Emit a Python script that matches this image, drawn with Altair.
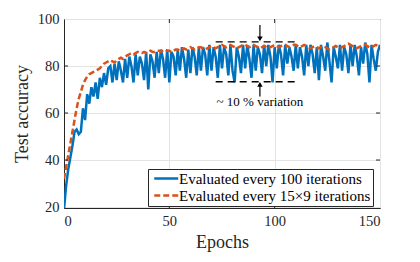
import altair as alt
import pandas as pd

# ---------------- data ----------------
epochs = list(range(0, 151))

blue_acc = [
    19, 29, 36, 41, 46, 52, 53, 51, 52, 62,
    57, 68, 64, 71, 67, 73, 66, 75, 71, 77,
    72, 79, 80, 73, 81, 74, 82, 78, 73, 83,
    75, 84, 80, 73, 85, 76, 84, 81, 74, 86,
    70, 85, 82, 75, 86, 77, 87, 83, 75, 87,
    73, 86, 84, 76, 87, 78, 88, 83, 75, 87,
    77, 88, 84, 76, 88, 78, 88, 85, 76, 89,
    78, 88, 84, 75, 89, 79, 88, 85, 76, 89,
    78, 73, 88, 84, 77, 89, 79, 89, 83, 75,
    89, 78, 88, 85, 77, 89, 80, 89, 84, 73,
    88, 79, 89, 85, 76, 89, 81, 88, 84, 78,
    89, 79, 88, 84, 76, 89, 80, 89, 85, 77,
    88, 74, 89, 84, 78, 90, 82, 73, 88, 84,
    79, 89, 78, 88, 85, 77, 89, 80, 89, 84,
    76, 88, 81, 90, 85, 73, 89, 83, 78, 86,
    89,
]

orange_acc = [
    32, 37, 42, 47, 52, 57, 62, 66, 69, 72,
    74, 75.5, 76.5, 77, 77.5, 78, 78.5, 79, 80, 81,
    81.5, 82, 82.5, 82, 81.5, 82.5, 83, 83.5, 83, 84,
    84.5, 85, 85.5, 85, 85.5, 86, 85.5, 85.5, 86, 85.5,
    86, 86.5, 86, 86, 86.5, 86.5, 86, 86.5, 87, 86.5,
    86.5, 86, 86.5, 87, 87, 86.5, 87, 87.5, 87, 87.5,
    88, 87.5, 87, 87.5, 88, 88, 87.5, 87, 87.5, 88,
    88.5, 88, 87.5, 88, 88.5, 89, 88.5, 88, 88.5, 89,
    88.5, 88, 87.5, 88, 88.5, 89, 89, 88.5, 88, 88.5,
    89, 88.5, 88, 87.5, 88, 88.5, 88, 87.5, 88, 88.5,
    89, 88.5, 88, 88.5, 89, 89, 88.5, 88, 88.5, 89,
    89, 88.5, 88, 88.5, 89, 88.5, 88, 87.5, 88, 88.5,
    88, 87.5, 88, 88.5, 88, 87.5, 87, 87.5, 88, 88.5,
    88, 87.5, 88, 88.5, 89, 89.5, 89, 88.5, 88, 87.5,
    88, 88.5, 89, 89, 88.5, 88, 88, 88.5, 89, 88.5,
    88,
]

series_names = ["Evaluated every 100 iterations", "Evaluated every 15\u00d79 iterations"]
series_colors = ["#0072BD", "#D95319"]

x_ticks = [0, 50, 100, 150]
y_ticks = [20, 40, 60, 80, 100]

# annotation
band_levels = [90.3, 73.3]
band_start, band_end = 72, 111.5
arrow_epoch = 93
arrow_top = [97.5, 91.5]      # from, to (head)
arrow_bottom = [67.0, 72.2]
note_text = "~ 10 % variation"
note_pos = [93, 64.5]

# ---------------- layout ----------------
W, H = 316, 189
FONT = "Liberation Serif"
AX = "#262626"

df = pd.DataFrame({
    "epoch": epochs * 2,
    "acc": blue_acc + orange_acc,
    "series": [series_names[0]] * len(epochs) + [series_names[1]] * len(epochs),
})

xs = alt.Scale(domain=[0, 150], nice=False)
ys = alt.Scale(domain=[19.6, 100], nice=False)

leg = alt.Legend(
    title=None, orient="none", legendX=84, legendY=150,
    strokeColor=AX, fillColor="white", padding=2,
    labelFont=FONT, labelFontSize=15, labelColor="black",
    symbolType="M-0.65,0H4.15", symbolSize=100, symbolStrokeWidth=2.5,
    rowPadding=1, labelOffset=14, labelLimit=400,
)

lines = alt.Chart(df).mark_line(strokeWidth=2.5, clip=True).encode(
    x=alt.X("epoch:Q", scale=xs, axis=alt.Axis(
        values=x_ticks, title="Epochs", ticks=False, labelPadding=6,
        titleY=39, titleBaseline="alphabetic")),
    y=alt.Y("acc:Q", scale=ys, axis=alt.Axis(
        values=y_ticks, title="Test accuracy", ticks=False, labelPadding=5,
        titleX=-37, titleY=H / 2, titleAngle=-90, titleAlign="center",
        titleBaseline="alphabetic")),
    color=alt.Color("series:N", scale=alt.Scale(domain=series_names, range=series_colors), legend=leg),
    strokeDash=alt.StrokeDash("series:N", scale=alt.Scale(domain=series_names, range=[[1, 0], [6, 3]]), legend=leg),
    order="epoch:Q",
)

band_df = pd.DataFrame({"y": band_levels, "x": [band_start] * 2, "x2": [band_end] * 2})
band = alt.Chart(band_df).mark_rule(color="black", strokeWidth=1.3, strokeDash=[7, 5]).encode(
    x=alt.X("x:Q", scale=xs), x2="x2:Q", y=alt.Y("y:Q", scale=ys))

arr_df = pd.DataFrame({"x": [arrow_epoch] * 2, "y": [arrow_top[0], arrow_bottom[0]],
                       "y2": [arrow_top[1], arrow_bottom[1]]})
arrows = alt.Chart(arr_df).mark_rule(color="black", strokeWidth=1.2).encode(
    x=alt.X("x:Q", scale=xs), y=alt.Y("y:Q", scale=ys), y2="y2:Q")

head_df = pd.DataFrame({"x": [arrow_epoch] * 2, "y": [arrow_top[1], arrow_bottom[1]],
                        "shape": ["triangle-down", "triangle-up"]})
heads = alt.Chart(head_df).mark_point(filled=True, color="black", size=30, opacity=1).encode(
    x=alt.X("x:Q", scale=xs), y=alt.Y("y:Q", scale=ys),
    shape=alt.Shape("shape:N", scale=None))

note_df = pd.DataFrame({"x": [note_pos[0]], "y": [note_pos[1]], "t": [note_text]})
note = alt.Chart(note_df).mark_text(font=FONT, fontSize=13, color="black").encode(
    x=alt.X("x:Q", scale=xs), y=alt.Y("y:Q", scale=ys), text="t:N")

# inward ticks
xt_df = pd.DataFrame({"v": x_ticks[1:-1]})
yt_df = pd.DataFrame({"v": y_ticks[1:-1]})
tk = dict(color=AX, strokeWidth=1)
xb = alt.Chart(xt_df).mark_rule(**tk).encode(x=alt.X("v:Q", scale=xs), y=alt.value(H), y2=alt.value(H - 4))
xtp = alt.Chart(xt_df).mark_rule(**tk).encode(x=alt.X("v:Q", scale=xs), y=alt.value(0), y2=alt.value(4))
yl = alt.Chart(yt_df).mark_rule(**tk).encode(y=alt.Y("v:Q", scale=ys), x=alt.value(0), x2=alt.value(4))
yr = alt.Chart(yt_df).mark_rule(**tk).encode(y=alt.Y("v:Q", scale=ys), x=alt.value(W), x2=alt.value(W - 4))

chart = alt.layer(lines, band, arrows, heads, note, xb, xtp, yl, yr).properties(
    width=W, height=H,
    background="white",
    autosize=alt.AutoSizeParams(type="none"),
    padding={"left": 56, "top": 11, "right": 30, "bottom": 45},
).configure_view(stroke=AX, strokeWidth=1).configure_axis(
    labelFont=FONT, labelFontSize=14.5, labelColor=AX,
    titleFont=FONT, titleFontSize=18, titleColor=AX, titleFontWeight="normal",
    domainColor=AX, gridColor="#e3e3e3", gridWidth=1,
).configure_legend(labelFont=FONT)

chart.save("out.html", embed_options={"renderer": "svg", "actions": False})
